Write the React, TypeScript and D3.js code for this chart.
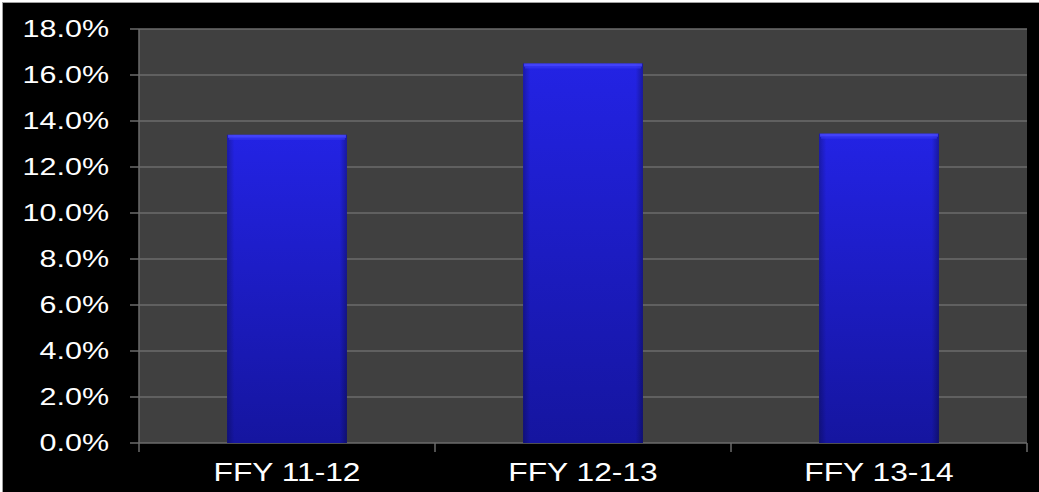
import React from "react";
import * as d3 from "d3";

const categories = ["FFY 11-12", "FFY 12-13", "FFY 13-14"];
const rates = [13.4, 16.5, 13.45];
const yTicks = [0, 2, 4, 6, 8, 10, 12, 14, 16, 18];

const W = 1039;
const H = 492;
const plot = { left: 139, right: 1027, top: 29, bottom: 443 };
// text is drawn a little wider than the font's natural proportions
const stretch = 1.27;

export default function App() {
  const x = d3
    .scaleBand<string>()
    .domain(categories)
    .range([plot.left, plot.right])
    .paddingInner(0.595)
    .paddingOuter(0.2975);
  const y = d3.scaleLinear().domain([0, 18]).range([plot.bottom, plot.top]);
  const step = (plot.right - plot.left) / categories.length;
  const font = "'Liberation Sans', Arial, sans-serif";

  return (
    <svg
      width={W}
      height={H}
      style={{ position: "fixed", left: 0, top: 0, display: "block" }}
    >
      <defs>
        <linearGradient id="barFill" x1="0" y1="0" x2="0" y2="1">
          <stop offset="0%" stopColor="#2323e4" />
          <stop offset="100%" stopColor="#15159f" />
        </linearGradient>
        <linearGradient id="barSide" x1="0" y1="0" x2="1" y2="0">
          <stop offset="0%" stopColor="#000" stopOpacity="0.25" />
          <stop offset="6%" stopColor="#000" stopOpacity="0" />
          <stop offset="94%" stopColor="#000" stopOpacity="0" />
          <stop offset="100%" stopColor="#000" stopOpacity="0.3" />
        </linearGradient>
      </defs>
      <rect x={0} y={0} width={W} height={H} fill="#ffffff" />
      <rect x={2} y={2} width={W - 2} height={H - 2} fill="#a0a0a0" />
      <rect x={3} y={3} width={W - 3} height={H - 3} fill="#000000" />

      {/* plot area */}
      <rect
        x={plot.left}
        y={plot.top}
        width={plot.right - plot.left}
        height={plot.bottom - plot.top}
        fill="#404040"
      />

      {/* gridlines + y ticks */}
      {yTicks.map((t) => (
        <g key={t}>
          <line
            x1={plot.left - 9}
            x2={plot.right}
            y1={y(t)}
            y2={y(t)}
            stroke="#6b6b6b"
            strokeWidth={1.5}
          />
          <text
            transform={`translate(109,${y(t)}) scale(${stretch},1)`}
            dy="0.35em"
            textAnchor="end"
            fill="#ffffff"
            fontFamily={font}
            fontSize={24}
          >
            {t.toFixed(1)}%
          </text>
        </g>
      ))}

      {/* y axis line */}
      <line
        x1={plot.left}
        x2={plot.left}
        y1={plot.top}
        y2={plot.bottom}
        stroke="#6b6b6b"
        strokeWidth={1.5}
      />

      {/* category ticks */}
      {d3.range(categories.length + 1).map((i) => (
        <line
          key={i}
          x1={plot.left + i * step}
          x2={plot.left + i * step}
          y1={plot.bottom}
          y2={plot.bottom + 9}
          stroke="#6b6b6b"
          strokeWidth={1.5}
        />
      ))}

      {/* bars */}
      {categories.map((c, i) => {
        const bx = x(c)!;
        const bw = x.bandwidth();
        const by = y(rates[i]);
        const bh = plot.bottom - by;
        return (
          <g key={c}>
            <rect x={bx} y={by} width={bw} height={bh} fill="url(#barFill)" />
            <rect x={bx} y={by} width={bw} height={bh} fill="url(#barSide)" />
            <rect x={bx + 1} y={by} width={bw - 2} height={3} fill="#4a4aff" opacity={0.8} />
            <rect x={bx + 2} y={by + 3} width={bw - 4} height={2} fill="#3434f0" opacity={0.7} />
          </g>
        );
      })}

      {/* category labels */}
      {categories.map((c) => (
        <text
          key={c}
          transform={`translate(${x(c)! + x.bandwidth() / 2},481) scale(${stretch},1)`}
          textAnchor="middle"
          fill="#ffffff"
          fontFamily={font}
          fontSize={25}
        >
          {c}
        </text>
      ))}
    </svg>
  );
}
